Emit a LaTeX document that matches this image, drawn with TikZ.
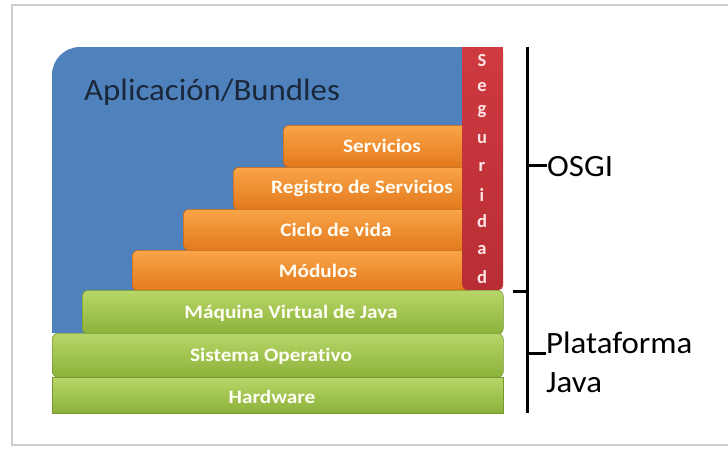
\documentclass[tikz,border=0pt]{standalone}
\usepackage{fontspec}
\setmainfont{Carlito}
\newfontfamily\headfont[FakeStretch=1.06]{Carlito}
\newfontfamily\boxfont[FakeStretch=1.12,Ligatures=NoCommon]{Carlito}
\definecolor{appblue}{RGB}{79,129,189}
\definecolor{orangetop}{RGB}{250,164,72}
\definecolor{orangebot}{RGB}{226,121,28}
\definecolor{greentop}{RGB}{184,214,104}
\definecolor{greenbot}{RGB}{139,178,58}
\definecolor{sectop}{RGB}{206,58,64}
\definecolor{secbot}{RGB}{184,46,52}
\definecolor{navytext}{RGB}{27,40,58}
\definecolor{framegray}{RGB}{205,205,205}
\begin{document}
\begin{tikzpicture}[x=1pt,y=-1pt,
  layerbox/.style={rectangle, rounded corners=6pt, anchor=north west, inner sep=0pt},
  orangebox/.style={layerbox, top color=orangetop, bottom color=orangebot, draw=orangebot!85!black, line width=0.6pt},
  greenbox/.style={layerbox, top color=greentop, bottom color=greenbot, draw=greenbot!85!black, line width=0.6pt},
  boxlabel/.style={font=\boxfont\bfseries\fontsize{19}{19}\selectfont, text=white!96!yellow, inner sep=0pt},
  seclabel/.style={font=\bfseries\fontsize{18.5}{18.5}\selectfont, text=white!90!red, inner sep=0pt},
  sidelabel/.style={font=\headfont\fontsize{31}{31}\selectfont, text=black, inner sep=0pt, anchor=base west},
  bracket/.style={line width=3pt, black}]
\useasboundingbox (0,0) rectangle (728,450);
\fill[white] (0,0) rectangle (728,450);
\begin{scope}
\clip (0,0) rectangle (728,450);
\draw[framegray, line width=2.5pt] (12,5) rectangle (740,445);
\end{scope}

% application area
\fill[appblue] (52,333) -- (52,75) arc[start angle=180, end angle=270, x radius=28pt, y radius=-28pt] -- (470,47) -- (470,333) -- cycle;
\node[font=\headfont\fontsize{31}{31}\selectfont, text=navytext, anchor=base west, inner sep=0pt] (app) at (84,100) {Aplicación/Bundles};

% OSGi layers
\node[orangebox, minimum width=190pt, minimum height=42pt] (serv) at (283,125) {};
\node[orangebox, minimum width=240pt, minimum height=43pt] (reg) at (233,167) {};
\node[orangebox, minimum width=290pt, minimum height=41pt] (ciclo) at (183,209) {};
\node[orangebox, minimum width=340pt, minimum height=41pt] (mod) at (132,250) {};
\node[boxlabel] (servtxt) at (382,146) {Servicios};
\node[boxlabel] (regtxt) at (362,188) {Registro de Servicios};
\node[boxlabel] (ciclotxt) at (336,230) {Ciclo de vida};
\node[boxlabel] (modtxt) at (318,271) {Módulos};

% security column
\node[layerbox, rounded corners=5pt, top color=sectop, bottom color=secbot, minimum width=41pt, minimum height=243pt] (sec) at (462,47) {};
\fill[sectop] (462,47) rectangle (503,60);
\foreach \ch/\yy [count=\i] in {S/60,e/87,g/112,u/139,r/167,i/195,d/221,a/250,d/277}
  \node[seclabel] (sec\i) at (482,\yy) {\ch};

% Java platform layers
\node[greenbox, minimum width=421pt, minimum height=44pt] (jvm) at (82,290) {};
\node[greenbox, minimum width=451pt, minimum height=44pt] (so) at (52,333) {};
\node[greenbox, rounded corners=0pt, minimum width=451pt, minimum height=36pt] (hw) at (52,377) {};
\node[boxlabel] (jvmtxt) at (291,313) {Máquina Virtual de Java};
\node[boxlabel] (sotxt) at (271,356) {Sistema Operativo};
\node[boxlabel] (hwtxt) at (272,397) {Hardware};

% brackets
\coordinate (btop) at (527,47);
\coordinate (bbot) at (527,413);
\coordinate (osgitick) at (527,165);
\coordinate (splittick) at (527,291);
\coordinate (splitend) at (513,291);
\coordinate (javatick) at (527,353);
\draw[bracket] (btop) -- (bbot);
\node[sidelabel] (osgi) at (547,176) {OSGI};
\node[sidelabel] (plat) at (546,353) {Plataforma};
\node[sidelabel] (java) at (546,392) {Java};
\draw[bracket] (osgitick) -- (osgi.west |- osgitick);
\draw[bracket] (splitend) -- (splittick);
\draw[bracket] (javatick) -- (plat.west |- javatick);
\end{tikzpicture}
\end{document}
